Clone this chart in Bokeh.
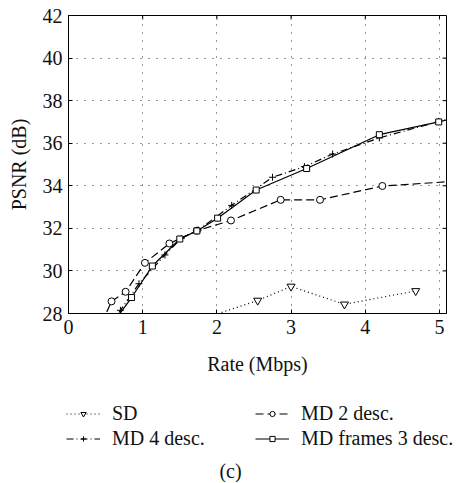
from bokeh.plotting import figure
from bokeh.models import Range1d, Legend, LegendItem, Label, FixedTicker
from bokeh.layouts import column
from bokeh.embed import file_html
from bokeh.resources import INLINE

# ---- data ----
rate_sd = [1.50, 2.55, 3.00, 3.72, 4.68]
psnr_sd = [27.40, 28.61, 29.27, 28.43, 29.06]

rate_md2 = [0.45, 0.58, 0.77, 1.03, 1.36, 1.73, 2.19, 2.86, 3.39, 4.23, 5.60]
psnr_md2 = [27.55, 28.57, 29.02, 30.38, 31.29, 31.89, 32.37, 33.34, 33.34, 33.99, 34.30]

rate_md4 = [0.58, 0.70, 0.95, 1.30, 1.52, 1.75, 2.20, 2.75, 3.18, 3.56, 4.19, 4.99, 5.60]
psnr_md4 = [27.50, 28.15, 29.40, 30.75, 31.53, 31.92, 33.08, 34.40, 34.90, 35.49, 36.25, 37.02, 37.45]

rate_mdf = [0.62, 0.85, 1.13, 1.50, 1.73, 2.01, 2.53, 3.21, 4.19, 4.99, 5.60]
psnr_mdf = [27.65, 28.75, 30.23, 31.50, 31.88, 32.48, 33.80, 34.81, 36.40, 37.00, 37.50]

series_labels = ["SD", "MD 2 desc.", "MD 4 desc.", "MD frames 3 desc."]
x_ticks = [0, 1, 2, 3, 4, 5]
y_ticks = [28, 30, 32, 34, 36, 38, 40, 42]

X0, X1 = 0, 5.095
Y0, Y1 = 28, 42

FONT = "Liberation Serif"
FS = "20px"
INK = "#111111"

W = 460
H1 = 385
H2 = 97
ML, MR, MT, MB = 68, 14, 15, 72

STYLES = [
    dict(dash="1 3", marker="inverted_triangle", size=8),
    dict(dash="8 4", marker="circle", size=7),
    dict(dash="7 3 1 3", marker="cross", size=7),
    dict(dash="solid", marker="square", size=6),
]
LW = 1.2
data = [(rate_sd, psnr_sd), (rate_md2, psnr_md2), (rate_md4, psnr_md4), (rate_mdf, psnr_mdf)]

p = figure(width=W, height=H1, output_backend="svg", toolbar_location=None,
           x_range=Range1d(X0, X1), y_range=Range1d(Y0, Y1),
           min_border_left=ML, min_border_right=MR, min_border_top=MT, min_border_bottom=MB)
p.background_fill_color = "white"
p.outline_line_color = "black"
p.outline_line_width = 1

for ax, ticks in ((p.xaxis[0], x_ticks), (p.yaxis[0], y_ticks)):
    ax.ticker = FixedTicker(ticks=ticks)
    ax.major_label_text_font = FONT
    ax.major_label_text_font_size = FS
    ax.major_label_text_color = INK
    ax.axis_label_text_font = FONT
    ax.axis_label_text_font_size = FS
    ax.axis_label_text_font_style = "normal"
    ax.axis_label_text_color = INK
    ax.major_tick_in = 4
    ax.major_tick_out = 0
    ax.minor_tick_line_color = None
    ax.axis_line_color = "black"
    ax.major_tick_line_color = "black"

p.xaxis.axis_label = "Rate (Mbps)"
p.xaxis.major_label_standoff = 6
p.xaxis.axis_label_standoff = 16
p.yaxis.axis_label = "PSNR (dB)"
p.yaxis.major_label_standoff = 6
p.yaxis.axis_label_standoff = 10

p.xgrid.ticker = FixedTicker(ticks=x_ticks)
p.ygrid.ticker = FixedTicker(ticks=y_ticks)
for g in (p.xgrid[0], p.ygrid[0]):
    g.grid_line_color = "black"
    g.grid_line_dash = "1 7"
    g.grid_line_width = 1
    g.grid_line_alpha = 0.8

# mirrored inward ticks on the top and right edges of the frame
frame_w = W - ML - MR
frame_h = H1 - MT - MB
tick_dy = (Y1 - Y0) * 4 / frame_h
tick_dx = (X1 - X0) * 4 / frame_w
p.segment(x0=x_ticks, y0=[Y1] * len(x_ticks), x1=x_ticks, y1=[Y1 - tick_dy] * len(x_ticks),
          line_color="black", line_width=1)
p.segment(x0=[X1] * len(y_ticks), y0=y_ticks, x1=[X1 - tick_dx] * len(y_ticks), y1=y_ticks,
          line_color="black", line_width=1)

for (xs, ys), st in zip(data, STYLES):
    p.line(xs, ys, line_color="black", line_width=LW, line_dash=st["dash"])
    p.scatter(xs, ys, marker=st["marker"], size=st["size"], fill_color="white",
              line_color="black", line_width=1)

# ---- legend panel (second figure; hidden copies of the series give the legend glyphs) ----
p2 = figure(width=W, height=H2, output_backend="svg", toolbar_location=None,
            x_range=Range1d(0, 1), y_range=Range1d(0, 1),
            min_border_left=0, min_border_right=0, min_border_top=0, min_border_bottom=0)
p2.axis.visible = False
p2.grid.visible = False
p2.outline_line_color = None
for fig in (p, p2):
    if "frame_align" in fig.properties():
        fig.frame_align = False

items = {}
for lab, (xs, ys), st in zip(series_labels, data, STYLES):
    lr = p2.line(xs, ys, line_color="black", line_width=LW, line_dash=st["dash"], visible=False)
    mr = p2.scatter(xs, ys, marker=st["marker"], size=st["size"] - 1, fill_color="white",
                    line_color="black", line_width=1, visible=False)
    items[lab] = LegendItem(label=lab, renderers=[lr, mr])

# column-major filling: first column SD / MD 4, second column MD 2 / MD frames
order = ["SD", "MD 4 desc.", "MD 2 desc.", "MD frames 3 desc."]
legend = Legend(items=[items[k] for k in order], ncols=2, location=(66, 32))
legend.label_text_font = FONT
legend.label_text_font_size = FS
legend.label_text_color = INK
legend.glyph_width = 34
legend.glyph_height = 13
legend.label_height = 20
legend.label_width = 141
legend.label_standoff = 12
legend.spacing = 2
legend.padding = 0
legend.margin = 0
legend.border_line_color = None
legend.background_fill_alpha = 0
legend.inactive_fill_alpha = 0
p2.add_layout(legend, "center")

cap = Label(x=230, y=12, x_units="screen", y_units="screen", text="(c)",
            text_font=FONT, text_font_size=FS, text_color=INK,
            text_align="center", text_baseline="middle")
p2.add_layout(cap)

layout = column(p, p2, spacing=0)
open("out.html", "w").write(file_html(layout, INLINE))
